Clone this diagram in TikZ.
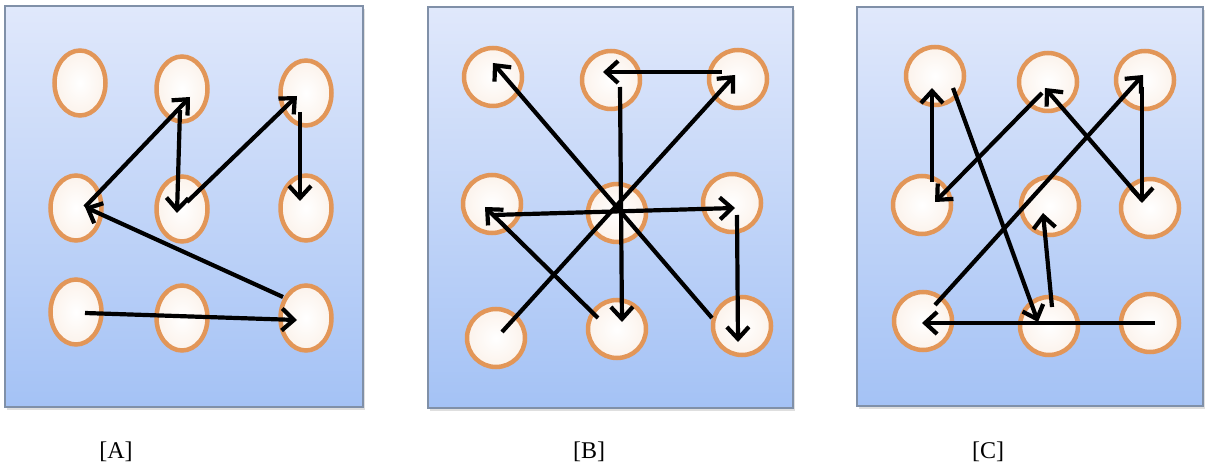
\documentclass[tikz,border=0pt]{standalone}
\usepackage{fontspec}
\setmainfont{Liberation Serif}
\usepackage{tikz}
\usetikzlibrary{shapes.geometric, arrows.meta, calc, shadows}
\definecolor{paneltop}{RGB}{224,232,251}
\definecolor{panelbot}{RGB}{164,194,245}
\definecolor{paneledge}{RGB}{128,144,168}
\definecolor{dotline}{RGB}{226,150,88}

\begin{document}
\begin{tikzpicture}[x=1pt, y=-1pt,
    panel/.style={rectangle, draw=paneledge, line width=1.2pt, top color=paneltop, bottom color=panelbot,
        drop shadow={opacity=0.25, shadow xshift=2pt, shadow yshift=-3pt}},
    dot/.style={circle, draw=dotline, line width=4.5pt, inner color=white, outer color=dotline!12, minimum size=58pt, inner sep=0pt},
    oval/.style={ellipse, draw=dotline, line width=4.5pt, inner color=white, outer color=dotline!12, minimum width=51pt, minimum height=65pt, inner sep=0pt},
    move/.style={-{Straight Barb[length=12pt, width=22pt]}, line width=4.2pt, black},
    tag/.style={font=\fontsize{24pt}{27pt}\selectfont}
]
\useasboundingbox (0,0) rectangle (1207,470);

\node[panel, minimum width=358pt, minimum height=401pt] (pa) at (184,206.5) {};
\node[panel, minimum width=365pt, minimum height=401pt] (pb) at (610.5,207.5) {};
\node[panel, minimum width=346pt, minimum height=399pt] (pc) at (1030,206.5) {};

\node[oval] (a11) at (80,83) {};
\node[oval] (a12) at (182,89) {};
\node[oval] (a13) at (306,93) {};
\node[oval] (a21) at (76,208) {};
\node[oval] (a22) at (182,209) {};
\node[oval] (a23) at (306,208) {};
\node[oval] (a31) at (76,312) {};
\node[oval] (a32) at (182,318) {};
\node[oval] (a33) at (306,318) {};

\node[dot] (b11) at (493,77) {};
\node[dot] (b12) at (611,80) {};
\node[dot] (b13) at (738,79) {};
\node[dot] (b21) at (492,204) {};
\node[dot] (b22) at (617,213) {};
\node[dot] (b23) at (732,203) {};
\node[dot] (b31) at (496,338) {};
\node[dot] (b32) at (617,329) {};
\node[dot] (b33) at (742,326) {};

\node[dot] (c11) at (935,76) {};
\node[dot] (c12) at (1048,82) {};
\node[dot] (c13) at (1145,80) {};
\node[dot] (c21) at (922,205) {};
\node[dot] (c22) at (1050,206) {};
\node[dot] (c23) at (1150,208) {};
\node[dot] (c31) at (923,321) {};
\node[dot] (c32) at (1049,326) {};
\node[dot] (c33) at (1150,323) {};

\draw[move] ($(a31)+(9,1)$) -- ($(a33)+(-9,2)$);
\draw[move] ($(a33)+(-23,-21)$) -- ($(a21)+(9,-1)$);
\draw[move] ($(a21)+(9,-1)$) -- ($(a12)+(8,8)$);
\draw[move] ($(a12)+(-2,21)$) -- ($(a22)+(-5,4)$);
\draw[move] ($(a22)+(5,-7)$) -- ($(a13)+(-9,3)$);
\draw[move] ($(a13)+(-6,19)$) -- ($(a23)+(-6,-7)$);

\draw[move] ($(b31)+(6,-6)$) -- ($(b13)+(-3,-4)$);
\draw[move] ($(b13)+(-16,-7)$) -- ($(b12)+(-8,-8)$);
\draw[move] ($(b12)+(9,7)$) -- ($(b32)+(5,-7)$);
\draw[move] ($(b32)+(-19,-11)$) -- ($(b21)+(-7,3)$);
\draw[move] ($(b21)+(1,11)$) -- ($(b23)+(3,5)$);
\draw[move] ($(b23)+(5,12)$) -- ($(b33)+(-4,16)$);
\draw[move] ($(b33)+(-30,-8)$) -- ($(b11)+(0,-14)$);

\draw[move] ($(c33)+(5,0)$) -- ($(c31)+(-1,2)$);
\draw[move] ($(c31)+(12,-16)$) -- ($(c13)+(-2,-5)$);
\draw[move] ($(c13)+(-3,7)$) -- ($(c23)+(-8,-5)$);
\draw[move] ($(c23)+(-8,-8)$) -- ($(c12)+(-3,6)$);
\draw[move] ($(c12)+(-6,11)$) -- ($(c21)+(13,-3)$);
\draw[move] ($(c21)+(10,-23)$) -- ($(c11)+(-3,12)$);
\draw[move] ($(c11)+(18,12)$) -- ($(c32)+(-11,-4)$);
\draw[move] ($(c32)+(3,-19)$) -- ($(c22)+(-7,7)$);

\node[tag] (ta) at (116,452) {[A]};
\node[tag] (tb) at (589,452) {[B]};
\node[tag] (tc) at (988,452) {[C]};

\end{tikzpicture}
\end{document}
